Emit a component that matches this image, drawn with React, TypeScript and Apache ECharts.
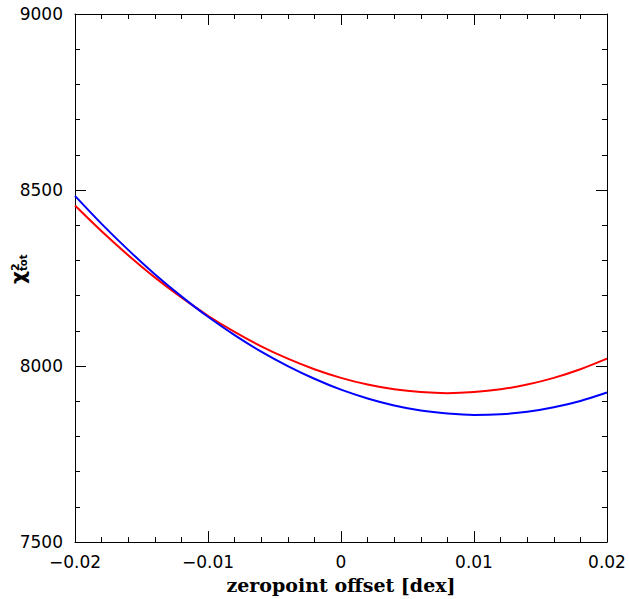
import React, { useEffect, useRef } from "react";
import * as echarts from "echarts";

const offsets = [-0.02, -0.018, -0.016, -0.014, -0.012, -0.01, -0.008, -0.006, -0.004, -0.002, 0, 0.002, 0.004, 0.006, 0.008, 0.01, 0.012, 0.014, 0.016, 0.018, 0.02];
const blueChi2 = [8483.5, 8404, 8330, 8261, 8198, 8140, 8088, 8041, 8000, 7964, 7933, 7908, 7888, 7873.5, 7865, 7861, 7863, 7870, 7883, 7901, 7925];
const redChi2 = [8456, 8383, 8315, 8252, 8195, 8143, 8097, 8056, 8021, 7991, 7966.5, 7947.5, 7934, 7926, 7923, 7926, 7934, 7947.5, 7966.5, 7991, 8021];

const xTitle = "zeropoint offset [dex]";

function fmtX(v: number): string {
  const r = Math.round(v * 100) / 100;
  if (r === 0) return "0";
  return r < 0 ? "\u2212" + Math.abs(r).toString() : r.toString();
}

export default function App() {
  const ref = useRef<HTMLDivElement>(null);
  useEffect(() => {
    if (!ref.current) return;
    const chart = echarts.init(ref.current, undefined, { renderer: "svg" });
    const axisLine = { show: true, onZero: false, lineStyle: { color: "#000", width: 1 } };
    const labelFont = { fontFamily: "DejaVu Sans", fontSize: 17, color: "#000" };
    const tick = { show: true, inside: true, length: 11, lineStyle: { color: "#000", width: 1 } };
    const minor = { show: true, splitNumber: 5, length: 5, lineStyle: { color: "#000", width: 1 } };
    const xCommon = {
      type: "value" as const,
      min: -0.02,
      max: 0.02,
      interval: 0.01,
      axisLine,
      axisTick: tick,
      minorTick: minor,
      splitLine: { show: false },
    };
    const yCommon = {
      type: "value" as const,
      min: 7500,
      max: 9000,
      interval: 500,
      axisLine,
      axisTick: tick,
      minorTick: minor,
      splitLine: { show: false },
    };
    chart.setOption({
      animation: false,
      backgroundColor: "#fff",
      grid: { left: 75, top: 14, width: 532, height: 532, containLabel: false },
      xAxis: [
        {
          ...xCommon,
          position: "bottom",
          axisLabel: { ...labelFont, margin: 11, formatter: fmtX },
          name: xTitle,
          nameLocation: "middle",
          nameGap: 29,
          nameTextStyle: { fontFamily: "DejaVu Serif", fontWeight: "bold", fontSize: 19, color: "#000" },
        },
        { ...xCommon, position: "top", axisLabel: { show: false } },
      ],
      yAxis: [
        {
          ...yCommon,
          position: "left",
          axisLabel: { ...labelFont, margin: 12, formatter: (v: number) => String(v) },
        },
        { ...yCommon, position: "right", axisLabel: { show: false } },
      ],
      graphic: [
        {
          type: "group",
          x: 18,
          y: 284,
          rotation: Math.PI / 2,
          children: [
            {
              type: "text",
              x: 0,
              y: 0,
              style: { text: "\u03C7", fontFamily: "DejaVu Sans", fontWeight: "bold", fontSize: 20, fill: "#000", textAlign: "left", textVerticalAlign: "middle" },
            },
            {
              type: "text",
              x: 13,
              y: -3,
              style: { text: "2", fontFamily: "DejaVu Sans", fontWeight: "bold", fontSize: 11, fill: "#000", textAlign: "left", textVerticalAlign: "middle" },
            },
            {
              type: "text",
              x: 13,
              y: 5,
              style: { text: "tot", fontFamily: "DejaVu Sans", fontWeight: "bold", fontSize: 10, fill: "#000", textAlign: "left", textVerticalAlign: "middle" },
            },
          ],
        },
      ],
      series: [
        {
          type: "line",
          data: offsets.map((x, i) => [x, blueChi2[i]]),
          showSymbol: false,
          smooth: 0.3,
          lineStyle: { color: "#0000ff", width: 2 },
          itemStyle: { color: "#0000ff" },
          z: 3,
        },
        {
          type: "line",
          data: offsets.map((x, i) => [x, redChi2[i]]),
          showSymbol: false,
          smooth: 0.3,
          lineStyle: { color: "#ff0000", width: 2 },
          itemStyle: { color: "#ff0000" },
          z: 2,
        },
      ],
    });
    return () => chart.dispose();
  }, []);
  return <div ref={ref} style={{ position: "fixed", left: 0, top: 0, width: 629, height: 599, background: "#fff" }} />;
}
